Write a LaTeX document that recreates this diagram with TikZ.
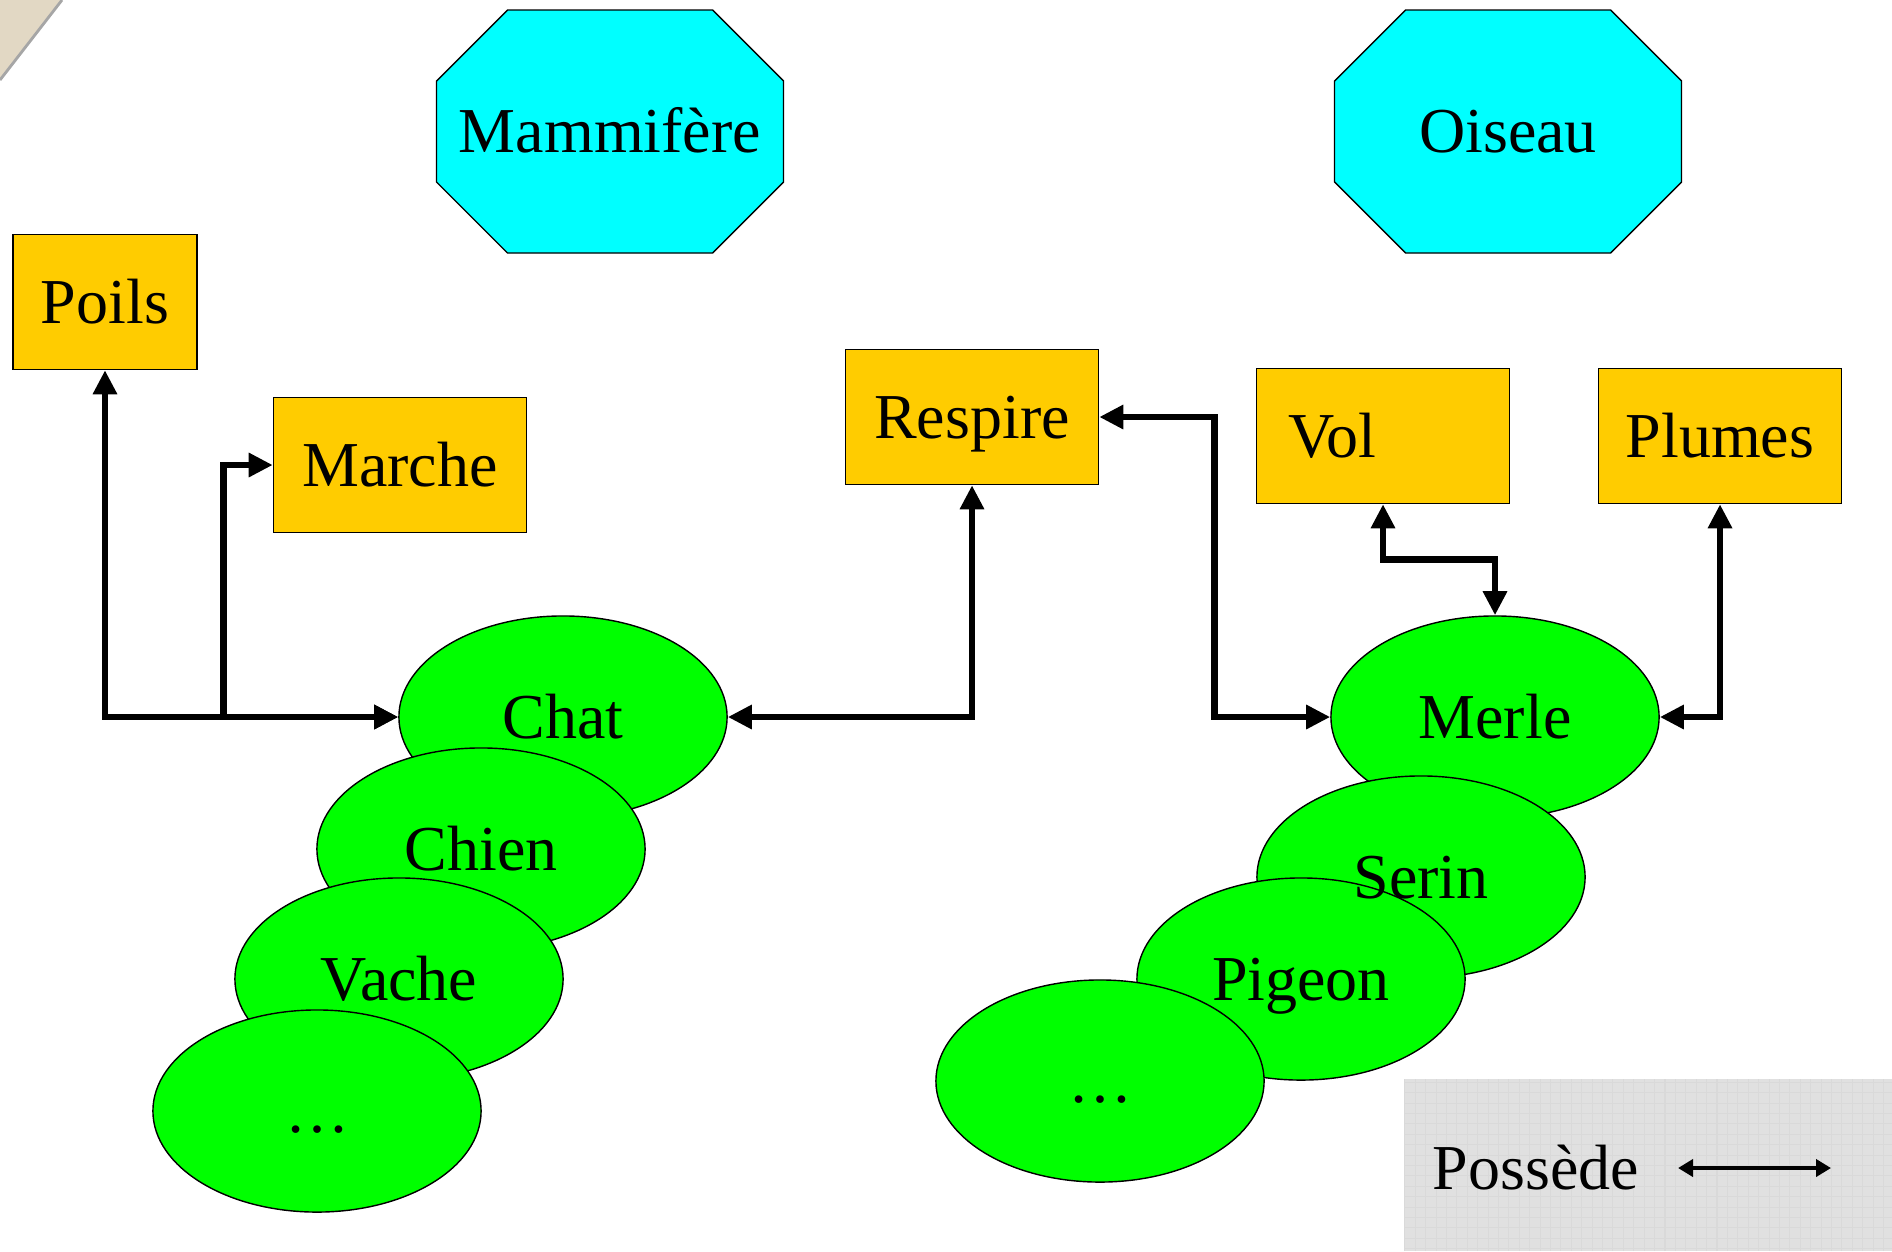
\documentclass[tikz,border=0pt]{standalone}
\usepackage{fontspec}
\setmainfont{Liberation Serif}
\usetikzlibrary{arrows.meta,shapes.geometric}

\definecolor{jaune}{HTML}{FFCC00}
\definecolor{ciel}{HTML}{00FFFF}
\definecolor{vert}{HTML}{00FF00}
\definecolor{grille}{HTML}{E0E0E0}
\definecolor{beige}{HTML}{E2D8C4}

\tikzset{
	propriete/.style={draw, fill=jaune, line width=0.4pt, minimum height=1.35cm, inner sep=0pt},
	animal/.style={draw, ellipse, fill=vert, line width=0.4pt, minimum width=3.28cm, minimum height=2.02cm, inner sep=0pt},
	possede/.style={{Triangle[length=2.4mm,width=2.3mm]}-{Triangle[length=2.4mm,width=2.3mm]}, line width=0.67mm},
}

\begin{document}
\begin{tikzpicture}[x=0.01cm, y=-0.01cm, every node/.style={font=\fontsize{18.2}{22}\selectfont, text height=12pt, text depth=0pt}]
	\useasboundingbox (0,0) rectangle (1892,1251);
	% Corner of the page
	\fill[beige] (0,0) -- (62,0) -- (0,80) -- cycle;
	\draw[gray!70, line width=0.8pt] (62,0) -- (0,80);
	% Draw the classes
	\foreach \cx in {610,1508}
		\draw[fill=ciel, line width=0.4pt] (\cx-102.5,10) -- (\cx+102.5,10) -- (\cx+173.5,81) -- (\cx+173.5,182)
			-- (\cx+102.5,253) -- (\cx-102.5,253) -- (\cx-173.5,182) -- (\cx-173.5,81) -- cycle;
	\node (mammifere) at (610,131) {Mammifère};
	\node (oiseau)    at (1508,131) {Oiseau};
	% Draw the properties
	\node[propriete, minimum width=1.84cm] (poils)   at (105,302)  {Poils};
	\node[propriete, minimum width=2.53cm] (marche)  at (400,465)  {Marche};
	\node[propriete, minimum width=2.53cm] (respire) at (972,417)  {Respire};
	\node[propriete, minimum width=2.53cm, text width=1.89cm, align=left] (vol) at (1383,436) {Vol};
	\node[propriete, minimum width=2.43cm] (plumes)  at (1720,436) {Plumes};
	% Draw the animals
	\node[animal] (chat)   at (563,717)  {};
	\node[animal] (chien)  at (481,849)  {};
	\node[animal] (vache)  at (399,979)  {};
	\node[animal] (autre1) at (317,1111) {};
	\node[animal] (merle)  at (1495,717) {};
	\node[animal] (serin)  at (1421,877) {};
	\node[animal] (pigeon) at (1301,979) {};
	\node[animal] (autre2) at (1100,1081) {};
	\foreach \n/\t in {chat/Chat, chien/Chien, vache/Vache, autre1/\ldots, merle/Merle, serin/Serin, pigeon/Pigeon, autre2/\ldots}
		\node (\n-nom) at (\n) {\t};
	% Connect the animals with their properties
	\draw[possede] (poils.south) |- (chat.west);
	\draw[possede] (marche.west) -- ++(-49,0) |- (chat.west);
	\draw[possede] (chat.east) -| (respire.south);
	\draw[possede] (respire.east) -- ++(115,0) |- (merle.west);
	\draw[possede] (vol.south) -- ++(0,55) -| (merle.north);
	\draw[possede] (plumes.south) |- (merle.east);
	% Legend
	\fill[grille] (1404,1079) rectangle (1892,1251);
	\draw[gray!30, line width=0.3pt, step=1.04mm] (1404,1251) grid (1892,1079);
	\node (possede) at (1536,1168) {Possède};
	\coordinate (legende-g) at (1678,1168);
	\coordinate (legende-d) at (1831,1168);
	\draw[{Triangle[length=1.5mm,width=1.7mm]}-{Triangle[length=1.5mm,width=1.7mm]}, line width=0.4mm] (legende-g) -- (legende-d);
\end{tikzpicture}
\end{document}
